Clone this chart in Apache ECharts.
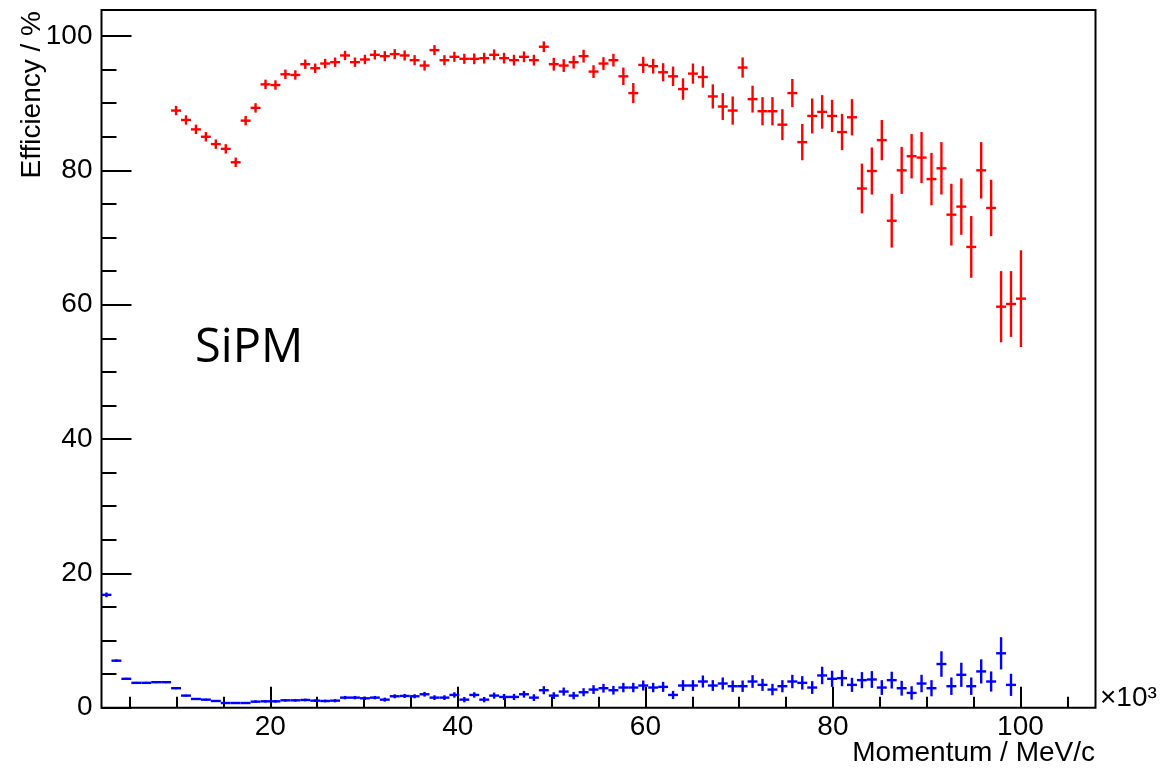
<!DOCTYPE html>
<html>
<head>
<meta charset="utf-8">
<script src="https://cdn.jsdelivr.net/npm/echarts@6/dist/echarts.min.js"></script>
<style>
html,body{margin:0;padding:0;background:#fff;}
#chart{width:1160px;height:771px;}
</style>
</head>
<body>
<div id="chart"></div>
<script>
// Histogram binning (x in units of 10^3 MeV/c)
const binLow = 2;
const binWidth = 1.06;

// Red series: efficiency (%) per bin, first bin index 7
const redFirstBin = 7;
const redEff = [
  88.9, 87.5, 86.1, 85.0, 83.9, 83.2, 81.2, 87.4, 89.3, 92.8,
  92.7, 94.3, 94.2, 95.8, 95.2, 95.9, 96.1, 97.1, 96.1, 96.5,
  97.2, 97.0, 97.3, 97.1, 96.4, 95.6, 97.9, 96.4, 96.9, 96.6,
  96.6, 96.7, 97.2, 96.7, 96.4, 96.9, 96.4, 98.4, 95.8, 95.6,
  96.1, 97.0, 94.7, 95.9, 96.4, 94.0, 91.5, 95.7, 95.5, 94.6,
  94.0, 92.1, 94.4, 93.9, 91.0, 89.5, 88.9, 95.3, 90.6, 88.8,
  88.8, 86.8, 91.5, 84.2, 88.1, 88.7, 88.1, 85.7, 87.9, 77.3,
  79.9, 84.5, 72.5, 80.0, 82.1, 81.9, 78.7, 80.3, 73.4, 74.6,
  68.6, 80.0, 74.4, 59.7, 60.1, 60.9
];
const redErr = [
  0.7, 0.7, 0.7, 0.7, 0.7, 0.7, 0.7, 0.7, 0.7, 0.7,
  0.7, 0.7, 0.7, 0.7, 0.7, 0.7, 0.7, 0.7, 0.7, 0.7,
  0.7, 0.75, 0.75, 0.75, 0.75, 0.75, 0.75, 0.75, 0.75, 0.75,
  0.8, 0.8, 0.8, 0.8, 0.8, 0.8, 0.8, 0.8, 0.95, 0.95,
  0.95, 0.95, 0.95, 0.95, 0.95, 1.3, 1.5, 1.2, 1.1, 1.35,
  1.45, 1.6, 1.5, 1.6, 1.8, 2.0, 2.1, 1.5, 2.0, 2.1,
  2.1, 2.3, 2.1, 2.7, 2.6, 2.5, 2.4, 2.7, 2.7, 3.7,
  3.5, 3.0, 4.0, 3.5, 3.3, 3.8, 3.9, 3.9, 4.6, 4.2,
  4.6, 4.2, 4.2, 5.3, 4.9, 7.2
];

// Blue series: efficiency (%) per bin, first bin index 0
const blueFirstBin = 0;
const blueEff = [
  16.8, 7.0, 4.3, 3.7, 3.7, 3.8, 3.8, 2.9, 1.8, 1.3,
  1.2, 1.0, 0.7, 0.7, 0.7, 0.9, 0.95, 0.95, 1.1, 1.1,
  1.15, 1.05, 1.0, 1.05, 1.5, 1.5, 1.4, 1.5, 1.2, 1.7,
  1.75, 1.7, 2.0, 1.5, 1.5, 1.9, 1.2, 1.9, 1.2, 1.8,
  1.6, 1.6, 2.0, 1.5, 2.6, 1.8, 2.4, 1.8, 2.3, 2.7,
  2.9, 2.6, 3.0, 3.0, 3.3, 3.0, 3.1, 1.9, 3.3, 3.3,
  3.9, 3.3, 3.6, 3.2, 3.2, 3.9, 3.4, 2.7, 3.2, 3.9,
  3.7, 3.0, 4.8, 4.3, 4.4, 3.4, 4.1, 4.2, 3.0, 4.1,
  2.9, 2.2, 3.6, 2.9, 6.5, 3.2, 4.9, 3.2, 5.4, 3.9,
  8.1, 3.4
];
const blueErr = [
  0.35, 0.2, 0.15, 0.15, 0.15, 0.15, 0.15, 0.15, 0.15, 0.15,
  0.15, 0.15, 0.15, 0.15, 0.15, 0.2, 0.2, 0.2, 0.2, 0.2,
  0.2, 0.2, 0.2, 0.25, 0.25, 0.25, 0.25, 0.25, 0.3, 0.3,
  0.3, 0.3, 0.35, 0.35, 0.35, 0.4, 0.4, 0.4, 0.4, 0.45,
  0.45, 0.45, 0.5, 0.5, 0.6, 0.5, 0.6, 0.55, 0.6, 0.65,
  0.65, 0.65, 0.7, 0.7, 0.75, 0.7, 0.75, 0.6, 0.8, 0.8,
  0.9, 0.8, 0.9, 0.85, 0.85, 0.95, 0.9, 0.85, 0.9, 1.0,
  1.0, 0.95, 1.3, 1.2, 1.2, 1.05, 1.2, 1.25, 1.1, 1.25,
  1.1, 1.0, 1.3, 1.2, 1.9, 1.3, 1.8, 1.3, 1.8, 1.5,
  2.4, 1.65
];

// Axis ticks / labels
const xMajorTicks = [20, 40, 60, 80, 100];
const xMinorTicks = [5, 10, 15, 25, 30, 35, 45, 50, 55, 65, 70, 75, 85, 90, 95, 105];
const yMajorTicks = [0, 20, 40, 60, 80, 100];
const yMinorTicks = [5, 10, 15, 25, 30, 35, 45, 50, 55, 65, 70, 75, 85, 90, 95];

const xTitle = 'Momentum / MeV/c';
const yTitle = 'Efficiency / %';
const xScaleLabel = '×10³';
const annotation = 'SiPM';

function buildData(first, vals, errs) {
  return vals.map((v, i) => [binLow + binWidth * (first + i + 0.5), v, errs[i]]);
}

function errRender(color) {
  return function (params, api) {
    const x = api.value(0), y = api.value(1), e = api.value(2);
    const l = api.coord([x - binWidth / 2, y]);
    const r = api.coord([x + binWidth / 2, y]);
    const t = api.coord([x, y + e]);
    const b = api.coord([x, y - e]);
    const st = { stroke: color, lineWidth: 2.4, fill: null };
    return {
      type: 'group',
      children: [
        { type: 'line', shape: { x1: l[0], y1: l[1], x2: r[0], y2: r[1] }, style: st },
        { type: 'line', shape: { x1: t[0], y1: t[1], x2: b[0], y2: b[1] }, style: st }
      ]
    };
  };
}

const FONT = 'Liberation Sans, Arial, sans-serif';
const chart = echarts.init(document.getElementById('chart'), null, { renderer: 'canvas' });

chart.setOption({
  animation: false,
  backgroundColor: '#ffffff',
  grid: {
    show: true, borderColor: '#000', borderWidth: 2, backgroundColor: 'transparent',
    left: 101.5, top: 10, right: 64.5, bottom: 63.3,
    containLabel: false, outerBoundsMode: 'none'
  },
  xAxis: [
    {
      type: 'value', min: 2, max: 108, position: 'bottom',
      axisLine: { show: false },
      splitLine: { show: false },
      axisTick: { show: true, inside: true, length: 21, customValues: xMajorTicks, lineStyle: { color: '#000', width: 2 } },
      axisLabel: { show: true, customValues: xMajorTicks, margin: 6, fontFamily: FONT, fontSize: 28, color: '#000' }
    },
    {
      type: 'value', min: 2, max: 108, position: 'bottom', offset: 0,
      axisLine: { show: false },
      splitLine: { show: false },
      axisTick: { show: true, inside: true, length: 11, customValues: xMinorTicks, lineStyle: { color: '#000', width: 2 } },
      axisLabel: { show: false }
    }
  ],
  yAxis: [
    {
      type: 'value', min: 0, max: 103.87, position: 'left',
      axisLine: { show: false },
      splitLine: { show: false },
      axisTick: { show: true, inside: true, length: 30, customValues: yMajorTicks, lineStyle: { color: '#000', width: 2 } },
      axisLabel: { show: true, customValues: yMajorTicks, margin: 9, fontFamily: FONT, fontSize: 28, color: '#000' }
    },
    {
      type: 'value', min: 0, max: 103.87, position: 'left', offset: 0,
      axisLine: { show: false },
      splitLine: { show: false },
      axisTick: { show: true, inside: true, length: 15, customValues: yMinorTicks, lineStyle: { color: '#000', width: 2 } },
      axisLabel: { show: false }
    }
  ],
  graphic: [
    { type: 'text', x: 1095, y: 753, style: { text: xTitle, fontFamily: FONT, fontSize: 28, fill: '#000', align: 'right', verticalAlign: 'middle' } },
    { type: 'text', x: 32, y: 11, rotation: Math.PI / 2, style: { text: yTitle, fontFamily: FONT, fontSize: 28, fill: '#000', align: 'right', verticalAlign: 'middle' } },
    { type: 'text', x: 1100, y: 712, style: { text: xScaleLabel, fontFamily: FONT, fontSize: 28, fill: '#000', align: 'left', verticalAlign: 'bottom' } },
    { type: 'text', x: 195, y: 349, style: { text: annotation, fontFamily: 'Open Sans, sans-serif', fontSize: 47, fill: '#000', align: 'left', verticalAlign: 'middle' } }
  ],
  series: [
    {
      name: 'red', type: 'custom', xAxisIndex: 0, yAxisIndex: 0,
      renderItem: errRender('#ff0000'),
      encode: { x: 0, y: 1 },
      data: buildData(redFirstBin, redEff, redErr)
    },
    {
      name: 'blue', type: 'custom', xAxisIndex: 0, yAxisIndex: 0,
      renderItem: errRender('#0000ff'),
      encode: { x: 0, y: 1 },
      data: buildData(blueFirstBin, blueEff, blueErr)
    }
  ]
});
</script>
</body>
</html>
